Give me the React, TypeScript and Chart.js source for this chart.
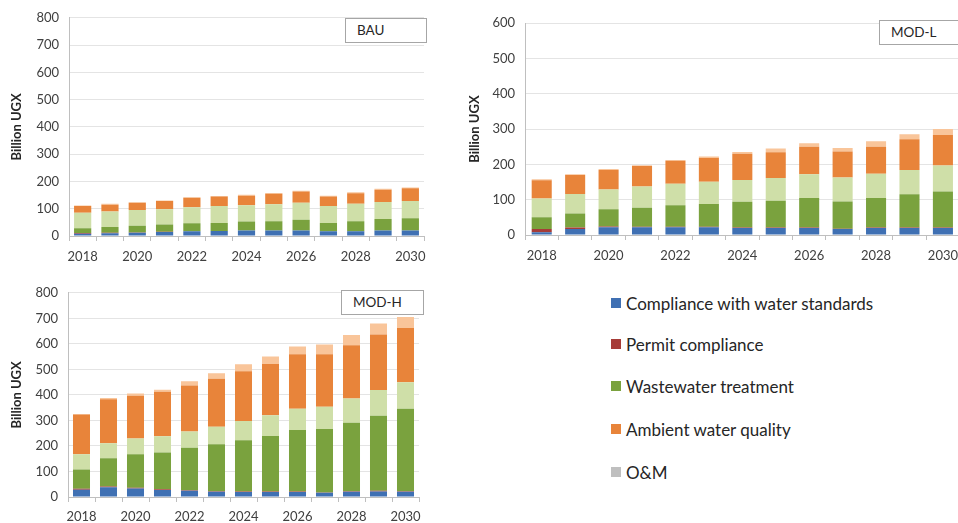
import React, { useEffect, useRef } from "react";
import { Chart, registerables } from "chart.js";

Chart.register(...registerables);

const years = ["2018","2019","2020","2021","2022","2023","2024","2025","2026","2027","2028","2029","2030"];

// BAU
const bauCompliance = [8,10,12,15,17,18,20,20,20,17,17,20,20];
const bauPermit = [3,2,1,1,0,0,0,0,0,0,0,0,0];
const bauWastewater = [17,21,25,26,30,30,33,34,40,31,37,42,45];
const bauOther = [57,57,57,56,58,62,60,62,62,62,64,63,63];
const bauAmbient = [25,25,27,30,35,35,35,39,41,35,39,45,47];
const bauOM = [2,3,2,2,2,2,3,3,3,3,3,3,3];

// MOD-L
const modLCompliance = [8,17,22,22,22,22,20,20,20,17,20,20,20];
const modLPermit = [9,4,2,1,1,1,1,1,1,1,1,1,1];
const modLWastewater = [33,40,49,54,61,65,73,76,84,77,84,94,102];
const modLOther = [53,55,56,60,61,63,62,64,67,68,68,69,74];
const modLAmbient = [52,54,55,59,65,67,74,73,78,73,77,87,86];
const modLOM = [3,2,3,1,2,4,5,11,10,10,15,14,17];

// MOD-H
const modHCompliance = [28,38,33,27,24,21,20,20,20,17,21,22,21];
const modHPermit = [4,3,3,3,2,2,2,2,2,1,2,2,2];
const modHWastewater = [76,111,131,144,167,184,200,217,240,248,268,294,323];
const modHOther = [59,59,62,64,64,68,76,81,84,88,95,101,104];
const modHAmbient = [156,172,168,174,180,188,195,201,213,205,209,218,212];
const modHOM = [2,5,8,8,16,22,27,29,31,38,40,43,43];

const seriesNames = ["Compliance with water standards","Permit compliance","Wastewater treatment","","Ambient water quality","O&M"];
const barColors = ["#3F70B3","#A63C38","#7AA23E","#CFDFA8","#E8843A","#F9C59A"];
const legendNames = ["Compliance with water standards","Permit compliance","Wastewater treatment","Ambient water quality","O&M"];
const legendColors = ["#3F70B3","#A63C38","#7AA23E","#E8843A","#BFBFBF"];

const FONT = "Lato, 'Open Sans', sans-serif";

type PanelProps = {
  series: number[][];
  max: number;
  left: number; top: number; width: number; height: number;
  pad: { top: number; right: number; bottom: number };
  yWidth: number; xHeight: number; titlePad: number; barPct: number; xPad: number;
};

function Panel(p: PanelProps) {
  const ref = useRef<HTMLCanvasElement | null>(null);
  useEffect(() => {
    if (!ref.current) return;
    const chart = new Chart(ref.current, {
      type: "bar",
      data: {
        labels: years,
        datasets: p.series.map((d, i) => ({
          label: seriesNames[i],
          data: d,
          backgroundColor: barColors[i],
          borderWidth: 0,
          barPercentage: p.barPct,
          categoryPercentage: 1,
        })),
      },
      options: {
        animation: false,
        responsive: false,
        maintainAspectRatio: false,
        layout: { padding: { top: p.pad.top, right: p.pad.right, bottom: p.pad.bottom, left: 0 } },
        plugins: { legend: { display: false }, tooltip: { enabled: false } },
        scales: {
          x: {
            stacked: true,
            grid: { display: true, drawOnChartArea: false, drawTicks: true, tickLength: 5, color: "#BFBFBF", offset: true },
            border: { color: "#BFBFBF" },
            ticks: {
              autoSkip: false, maxRotation: 0, minRotation: 0, padding: p.xPad,
              font: { family: FONT, size: 13 }, color: "#404040",
              callback: (_v: any, i: number) => (i % 2 === 0 ? years[i] : ""),
            },
            afterFit: (s: any) => { s.height = p.xHeight; },
          },
          y: {
            stacked: true, min: 0, max: p.max,
            ticks: { stepSize: 100, padding: 10, font: { family: FONT, size: 13 }, color: "#404040" },
            grid: { color: "#E4E4E4", drawTicks: false },
            border: { color: "#BFBFBF" },
            title: { display: true, text: "Billion UGX", font: { family: FONT, size: 13, weight: "bold" }, color: "#262626", padding: { top: p.titlePad, bottom: 0 } },
            afterFit: (s: any) => { s.width = p.yWidth; },
          },
        },
      } as any,
    });
    return () => chart.destroy();
  }, []);
  return (
    <canvas
      ref={ref}
      width={p.width}
      height={p.height}
      style={{ position: "absolute", left: p.left, top: p.top, width: p.width, height: p.height }}
    />
  );
}

const boxStyle = (left: number, top: number, w: number, h: number): React.CSSProperties => ({
  position: "absolute", left, top, width: w, height: h, boxSizing: "border-box",
  border: "1px solid #A6A6A6", background: "#fff", fontFamily: FONT, fontSize: 13.5,
  color: "#262626", paddingLeft: 11, lineHeight: `${h - 2}px`,
});

export default function App() {
  return (
    <div style={{ position: "absolute", left: 0, top: 0, width: 958, height: 523, background: "#fff", overflow: "hidden" }}>
      <Panel
        series={[bauCompliance, bauPermit, bauWastewater, bauOther, bauAmbient, bauOM]}
        max={800} left={0} top={0} width={440} height={270}
        pad={{ top: 16, right: 16, bottom: 4 }} yWidth={69} xHeight={30} titlePad={9} barPct={0.63} xPad={8}
      />
      <Panel
        series={[modLCompliance, modLPermit, modLWastewater, modLOther, modLAmbient, modLOM]}
        max={600} left={460} top={0} width={506} height={270}
        pad={{ top: 23, right: 0, bottom: 5 }} yWidth={65} xHeight={30} titlePad={7} barPct={0.6} xPad={8}
      />
      <Panel
        series={[modHCompliance, modHPermit, modHWastewater, modHOther, modHAmbient, modHOM]}
        max={800} left={0} top={275} width={440} height={248}
        pad={{ top: 14, right: 21, bottom: 0 }} yWidth={68} xHeight={26} titlePad={9} barPct={0.63} xPad={7}
      />
      <div style={boxStyle(345, 18, 82, 25)}>BAU</div>
      <div style={boxStyle(879, 20, 90, 25)}>MOD-L</div>
      <div style={boxStyle(341, 290, 83, 25)}>MOD-H</div>
      {legendNames.map((n, i) => (
        <div key={n} style={{ position: "absolute", left: 611, top: [303, 344, 386, 429, 472][i] - 11, height: 22, display: "flex", alignItems: "center", fontFamily: FONT, fontSize: 17, color: "#262626", whiteSpace: "nowrap" }}>
          <span style={{ display: "inline-block", width: 10, height: 10, background: legendColors[i], marginRight: 5 }} />
          {n}
        </div>
      ))}
    </div>
  );
}
